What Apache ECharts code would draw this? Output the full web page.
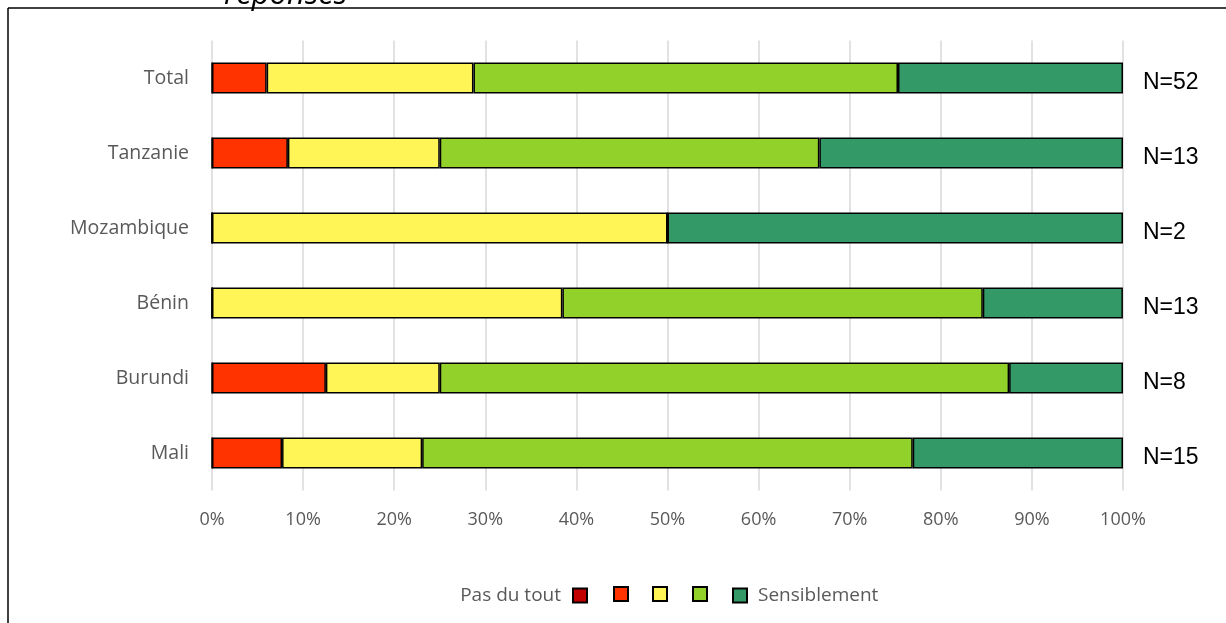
<!DOCTYPE html>
<html>
<head>
<meta charset="utf-8">
<script src="https://cdn.jsdelivr.net/npm/echarts@6/dist/echarts.min.js"></script>
<style>
  html, body { margin: 0; padding: 0; background: #fff; }
  #chart { width: 1226px; height: 623px; }
</style>
</head>
<body>
<div id="chart"></div>
<script>
// Pays, du bas vers le haut
const categories = ['Mali', 'Burundi', 'Bénin', 'Mozambique', 'Tanzanie', 'Total'];
const effectifs = ['N=15', 'N=8', 'N=13', 'N=2', 'N=13', 'N=52'];

// Parts des réponses (%) par niveau, de « Pas du tout » à « Sensiblement »
const niveau1 = [0, 0, 0, 0, 0, 0];
const niveau2 = [7.69, 12.5, 0, 0, 8.33, 6.0];
const niveau3 = [15.38, 12.5, 38.46, 50, 16.67, 22.7];
const niveau4 = [53.85, 62.5, 46.15, 0, 41.67, 46.6];
const niveau5 = [23.08, 12.5, 15.38, 50, 33.33, 24.7];

const xTicks = [0, 10, 20, 30, 40, 50, 60, 70, 80, 90, 100];

const names = ['Pas du tout', '2', '3', '4', 'Sensiblement'];
const colors = ['#C00000', '#FF3300', '#FFF556', '#92D12A', '#339966'];
const values = [niveau1, niveau2, niveau3, niveau4, niveau5];

const grayText = '#595959';
const uiFont = '"Open Sans", "Noto Sans", sans-serif';

const series = names.map((name, i) => ({
  name: name,
  type: 'bar',
  stack: 'total',
  barWidth: 31,
  data: values[i],
  itemStyle: { color: colors[i], borderColor: '#000', borderWidth: 1.5 },
  emphasis: { disabled: true }
}));

// Une légende par carré pour placer chaque symbole exactement
const legendLefts = [null, 613, 652, 692, 732];
const legends = names.map((name, i) => {
  const base = {
    data: [{ name: name, icon: 'rect' }],
    top: 586,
    padding: 0,
    itemWidth: 14,
    itemHeight: 14,
    selectedMode: false,
    textStyle: { color: grayText, fontSize: 19, fontFamily: uiFont },
    formatter: (n) => (n === 'Pas du tout' || n === 'Sensiblement') ? n : ''
  };
  if (i === 0) {
    base.right = 1226 - 588;
    base.align = 'right';
    base.textStyle.padding = [0, 7, 0, 0];
  } else {
    base.left = legendLefts[i];
    base.align = 'left';
    if (i === 4) base.textStyle.padding = [0, 0, 0, 6];
  }
  return base;
});

const chart = echarts.init(document.getElementById('chart'), null, { renderer: 'canvas' });
chart.setOption({
  animation: false,
  backgroundColor: '#fff',
  grid: { left: 212, right: 103, top: 40.5, bottom: 132.5 },
  xAxis: {
    type: 'value',
    min: 0,
    max: 100,
    interval: 10,
    axisLine: { show: false },
    axisTick: { show: false },
    splitLine: { show: true, lineStyle: { color: '#D9D9D9', width: 1.5 } },
    axisLabel: {
      margin: 20,
      color: grayText,
      fontSize: 18,
      fontFamily: uiFont,
      formatter: (v) => xTicks.includes(v) ? v + '%' : ''
    }
  },
  yAxis: [
    {
      type: 'category',
      data: categories,
      axisLine: { show: false },
      axisTick: { show: false },
      axisLabel: { margin: 23, color: grayText, fontSize: 19.5, fontFamily: uiFont }
    },
    {
      type: 'category',
      position: 'right',
      data: effectifs,
      axisLine: { show: false },
      axisTick: { show: false },
      axisLabel: {
        margin: 20,
        formatter: (v) => '{n|' + v + '}',
        rich: {
          n: {
            color: '#000',
            fontSize: 23,
            fontFamily: '"Liberation Sans", Arial, sans-serif',
            padding: [9, 0, 0, 0]
          }
        }
      }
    }
  ],
  legend: legends,
  series: series,
  graphic: [
    {
      type: 'line',
      shape: { x1: 8, y1: 8, x2: 1226, y2: 8 },
      style: { stroke: '#000', lineWidth: 1.5 },
      silent: true
    },
    {
      type: 'line',
      shape: { x1: 8, y1: 8, x2: 8, y2: 623 },
      style: { stroke: '#000', lineWidth: 1.5 },
      silent: true
    },
    {
      type: 'text',
      left: 224,
      top: -20,
      style: {
        text: 'réponses',
        fill: '#000',
        font: 'italic 31px ' + uiFont
      },
      silent: true
    }
  ]
});
</script>
</body>
</html>
